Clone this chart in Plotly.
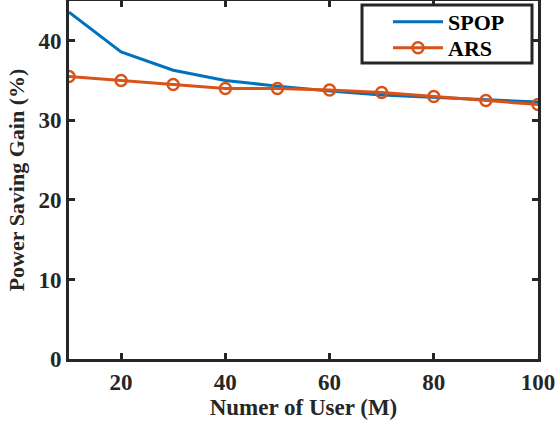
import plotly.graph_objects as go

users = [10, 20, 30, 40, 50, 60, 70, 80, 90, 100]
spop = [43.6, 38.6, 36.3, 35.0, 34.3, 33.7, 33.2, 32.9, 32.6, 32.3]
ars = [35.5, 35.0, 34.5, 34.0, 34.0, 33.8, 33.5, 33.0, 32.5, 32.0]

x_ticks = [20, 40, 60, 80, 100]
y_ticks = [0, 10, 20, 30, 40]

FAM = "Liberation Serif, Times New Roman, serif"
INK = "#262626"

fig = go.Figure()
fig.add_trace(go.Scatter(x=users, y=spop, mode="lines", name="<b>SPOP</b>",
                         line=dict(color="#0072BD", width=3), legend="legend"))
fig.add_trace(go.Scatter(x=users, y=ars, mode="lines+markers", name="<b>ARS</b>",
                         line=dict(color="#D95319", width=3),
                         marker=dict(symbol="circle-open", size=11, color="#D95319",
                                     line=dict(width=2.5, color="#D95319")),
                         legend="legend2"))

axis_common = dict(showline=True, linewidth=3, linecolor=INK, mirror="ticks",
                   ticks="inside", ticklen=6, tickwidth=3, tickcolor=INK,
                   showgrid=False, zeroline=False, automargin=False,
                   ticklabeloverflow="allow",
                   tickfont=dict(family=FAM, size=23, color=INK))

fig.update_xaxes(range=[10, 100], tickvals=x_ticks,
                 ticktext=[f"<b>{v}</b>" for v in x_ticks],
                 title=dict(text="<b>Numer of User (M)</b>",
                            font=dict(family=FAM, size=23, color=INK), standoff=2),
                 **axis_common)
fig.update_yaxes(range=[0, 45], tickvals=y_ticks,
                 ticktext=[f"<b>{v}</b>" for v in y_ticks],
                 title=dict(text="<b>Power Saving Gain (%)</b>",
                            font=dict(family=FAM, size=22, color=INK), standoff=8),
                 **axis_common)

fig.add_shape(type="rect", xref="paper", yref="paper",
              x0=(362 - 69) / 469, x1=(532 - 69) / 469,
              y0=1 - (63 - 1) / 358, y1=1 - (5 - 1) / 358,
              line=dict(color=INK, width=3), fillcolor="white", layer="above")

leg_common = dict(xanchor="left", yanchor="top", bgcolor="rgba(0,0,0,0)", borderwidth=0,
                  font=dict(family=FAM, size=22, color="black"), itemwidth=50)

fig.update_layout(
    width=555, height=425,
    margin=dict(l=69, r=17, t=1, b=66),
    plot_bgcolor="white", paper_bgcolor="white",
    font=dict(family=FAM, size=22, color=INK),
    showlegend=True,
    legend=dict(x=(388 - 69) / 469, y=1.0, **leg_common),
    legend2=dict(x=(388 - 69) / 469, y=1 - (27 - 1) / 358, **leg_common),
)

fig.write_html("out.html", config={"displayModeBar": False},
               post_script="document.body.style.margin='0';document.body.style.padding='0';")
